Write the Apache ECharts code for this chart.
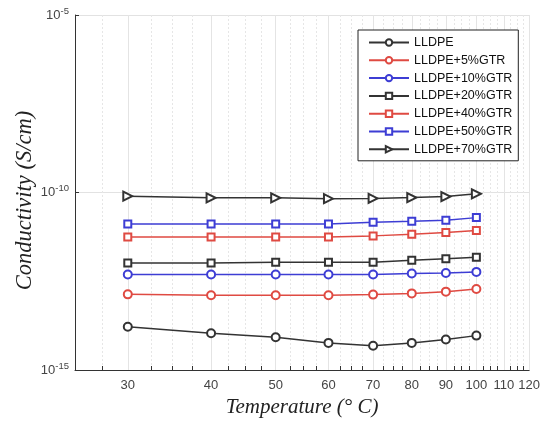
<!DOCTYPE html>
<html>
<head>
<meta charset="utf-8">
<script src="https://cdn.jsdelivr.net/npm/echarts@6/dist/echarts.min.js"></script>
<style>
  html, body { margin: 0; padding: 0; background: #fff; }
  #chart { width: 543px; height: 423px; }
</style>
</head>
<body>
<div id="chart"></div>
<script>
const temperatures = [30, 40, 50, 60, 70, 80, 90, 100];
const xLabelValues = [30, 40, 50, 60, 70, 80, 90, 100, 110, 120];
const xTickValues = [27.5, 30, 32.5, 35, 37.5, 40, 42.5, 45, 47.5, 50, 52.5, 55, 57.5, 60,
  62.5, 65, 67.5, 70, 72.5, 75, 77.5, 80, 82.5, 85, 87.5, 90, 92.5, 95, 97.5, 100,
  102.5, 105, 107.5, 110, 112.5, 115, 117.5, 120];

const lldpe = [1.66e-14, 1.08e-14, 8.4e-15, 5.8e-15, 4.8e-15, 5.8e-15, 7.2e-15, 9.3e-15];
const gtr5 = [1.35e-13, 1.27e-13, 1.27e-13, 1.27e-13, 1.33e-13, 1.44e-13, 1.61e-13, 1.91e-13];
const gtr10 = [4.9e-13, 4.9e-13, 4.9e-13, 4.9e-13, 4.9e-13, 5.2e-13, 5.4e-13, 5.8e-13];
const gtr20 = [1.04e-12, 1.04e-12, 1.09e-12, 1.09e-12, 1.09e-12, 1.24e-12, 1.37e-12, 1.5e-12];
const gtr40 = [5.6e-12, 5.6e-12, 5.6e-12, 5.6e-12, 6.0e-12, 6.7e-12, 7.5e-12, 8.5e-12];
const gtr50 = [1.3e-11, 1.3e-11, 1.3e-11, 1.3e-11, 1.45e-11, 1.55e-11, 1.65e-11, 1.96e-11];
const gtr70 = [7.9e-11, 7.1e-11, 7.1e-11, 6.7e-11, 6.8e-11, 7.2e-11, 7.7e-11, 9.2e-11];

const BLACK = "#333333";
const RED = "#df4a42";
const BLUE = "#3d3dd4";

const seriesDefs = [
  { name: "LLDPE", values: lldpe, color: BLACK, symbol: "emptyCircle", size: 8 },
  { name: "LLDPE+5%GTR", values: gtr5, color: RED, symbol: "emptyCircle", size: 8 },
  { name: "LLDPE+10%GTR", values: gtr10, color: BLUE, symbol: "emptyCircle", size: 8 },
  { name: "LLDPE+20%GTR", values: gtr20, color: BLACK, symbol: "emptyRect", size: 7 },
  { name: "LLDPE+40%GTR", values: gtr40, color: RED, symbol: "emptyRect", size: 7 },
  { name: "LLDPE+50%GTR", values: gtr50, color: BLUE, symbol: "emptyRect", size: 7 },
  { name: "LLDPE+70%GTR", values: gtr70, color: BLACK, symbol: "emptyTriangle", size: 9, rotate: -90 },
];

const chart = echarts.init(document.getElementById("chart"));

const series = seriesDefs.map((s) => ({
  name: s.name,
  type: "line",
  data: temperatures.map((t, i) => [t, s.values[i]]),
  symbol: s.symbol,
  symbolSize: s.size,
  symbolRotate: s.rotate || 0,
  color: s.color,
  z: 3,
  lineStyle: { width: 1.5, color: s.color },
  itemStyle: { color: s.color, borderColor: s.color, borderWidth: 1.3 },
  emphasis: { disabled: true },
}));

// solid major gridlines at the labelled temperatures
series[0].markLine = {
  silent: true,
  symbol: "none",
  z: 1,
  label: { show: false },
  lineStyle: { color: "#e4e4e4", type: "solid", width: 1 },
  data: xLabelValues.map((v) => ({ xAxis: v })),
};

chart.setOption({
  animation: false,
  grid: { left: 75, right: 11, top: 15, bottom: 50 },
  legend: {
    orient: "vertical",
    left: 358,
    top: 30,
    itemWidth: 40,
    itemHeight: 8,
    itemGap: 4.8,
    padding: [6, 6, 5, 10],
    backgroundColor: "#fff",
    borderColor: "#222",
    borderWidth: 1,
    borderRadius: 0,
    textStyle: { fontFamily: "Liberation Sans", fontSize: 12.5, lineHeight: 13, color: "#111" },
    data: seriesDefs.map((s) => s.name),
  },
  xAxis: {
    type: "log",
    min: 25,
    max: 120,
    name: "Temperature (° C)",
    nameLocation: "middle",
    nameGap: 27,
    nameTextStyle: { fontFamily: "Liberation Serif", fontStyle: "italic", fontSize: 21, color: "#222" },
    axisLine: { show: true, lineStyle: { color: "#333", width: 1 } },
    axisTick: { show: true, inside: true, length: 4, customValues: xTickValues, lineStyle: { color: "#333" } },
    axisLabel: {
      customValues: xLabelValues,
      fontFamily: "Liberation Sans",
      fontSize: 13,
      color: "#444",
      margin: 9,
      formatter: (v) => String(Math.round(v)),
    },
    splitLine: { show: true, lineStyle: { color: "#e6e6e6", type: [2, 2], width: 1 } },
  },
  yAxis: {
    type: "log",
    min: 1e-15,
    max: 1e-5,
    splitNumber: 2,
    name: "Conductivity (S/cm)",
    nameLocation: "middle",
    nameGap: 38,
    nameMoveOverlap: false,
    nameTextStyle: {
      fontFamily: "Liberation Serif",
      fontStyle: "italic",
      fontSize: 22.5,
      color: "#222",
      padding: [0, 16, 0, 0],
    },
    axisLine: { show: true, lineStyle: { color: "#333", width: 1 } },
    axisTick: { show: true, inside: true, length: 4, lineStyle: { color: "#333" } },
    axisLabel: {
      fontFamily: "Liberation Sans",
      fontSize: 13,
      color: "#444",
      margin: 6,
      formatter: (v) => "10{sup|" + Math.round(Math.log10(v)) + "}",
      rich: { sup: { fontSize: 9.5, verticalAlign: "top", padding: [0, 0, 8, 0], color: "#444", fontFamily: "Liberation Sans" } },
    },
    splitLine: { show: true, lineStyle: { color: "#e2e2e2", width: 1 } },
  },
  series: series,
});
</script>
</body>
</html>
